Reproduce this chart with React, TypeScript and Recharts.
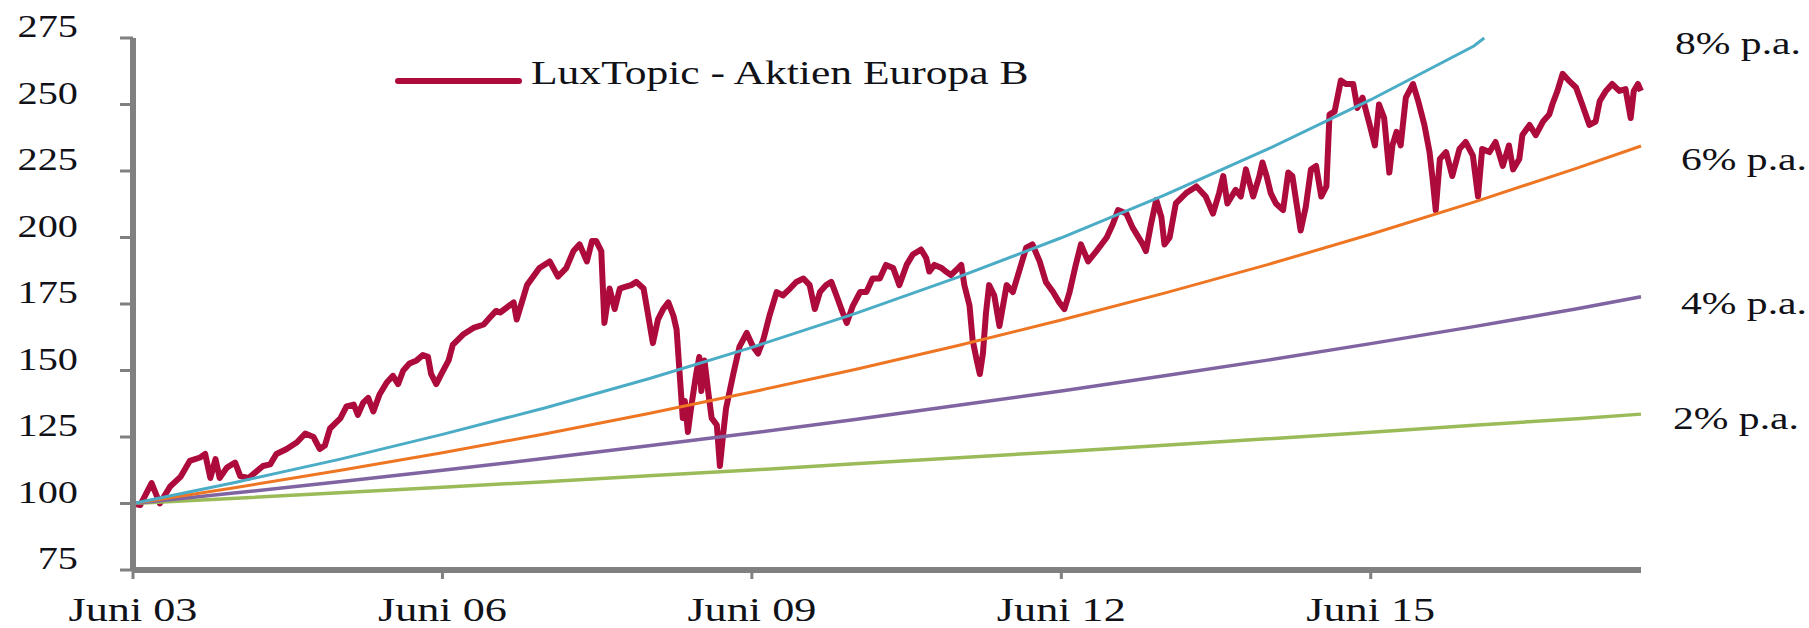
import React from 'react';
import { LineChart, Line, XAxis, YAxis } from 'recharts';

// LuxTopic - Aktien Europa B, indexiert (Juni 03 = 100), x = Jahre seit Juni 2003
const luxYears = [
    0, 0.07, 0.18, 0.26, 0.36, 0.46, 0.55, 0.65, 0.7, 0.75, 0.8, 0.84, 0.91, 0.99, 1.04, 1.12, 1.18, 1.26, 1.33, 1.39,
    1.49, 1.59, 1.67, 1.75, 1.81, 1.86, 1.91, 2.01, 2.07, 2.14, 2.18, 2.23, 2.28, 2.33, 2.39, 2.46, 2.52, 2.57, 2.62, 2.68,
    2.75, 2.81, 2.86, 2.89, 2.94, 2.99, 3.06, 3.1, 3.2, 3.3, 3.4, 3.46, 3.52, 3.56, 3.69, 3.72, 3.82, 3.94, 4.04, 4.12,
    4.2, 4.27, 4.33, 4.4, 4.45, 4.49, 4.54, 4.56, 4.57, 4.62, 4.67, 4.72, 4.77, 4.83, 4.88, 4.95, 4.99, 5.04, 5.09, 5.14,
    5.19, 5.24, 5.27, 5.3, 5.33, 5.35, 5.38, 5.41, 5.46, 5.49, 5.51, 5.54, 5.58, 5.61, 5.66, 5.69, 5.72, 5.75, 5.82, 5.88,
    5.95, 6.01, 6.06, 6.11, 6.17, 6.24, 6.3, 6.37, 6.43, 6.5, 6.56, 6.61, 6.66, 6.72, 6.77, 6.82, 6.88, 6.92, 6.98, 7.05,
    7.11, 7.17, 7.24, 7.3, 7.37, 7.43, 7.5, 7.56, 7.64, 7.69, 7.72, 7.77, 7.84, 7.88, 7.93, 8.0, 8.03, 8.06, 8.11, 8.14,
    8.18, 8.21, 8.24, 8.27, 8.3, 8.35, 8.4, 8.47, 8.53, 8.6, 8.66, 8.72, 8.79, 8.85, 8.92, 8.98, 9.03, 9.08, 9.14, 9.19,
    9.26, 9.34, 9.44, 9.5, 9.55, 9.63, 9.69, 9.79, 9.82, 9.87, 9.92, 9.97, 10.0, 10.05, 10.11, 10.21, 10.31, 10.4, 10.47, 10.53,
    10.57, 10.61, 10.69, 10.74, 10.79, 10.86, 10.92, 10.95, 10.99, 11.03, 11.08, 11.15, 11.2, 11.24, 11.29, 11.32, 11.37, 11.42, 11.47, 11.52,
    11.57, 11.6, 11.65, 11.71, 11.76, 11.83, 11.87, 11.92, 11.99, 12.04, 12.08, 12.13, 12.18, 12.21, 12.25, 12.29, 12.34, 12.41, 12.46, 12.52,
    12.57, 12.6, 12.63, 12.67, 12.73, 12.79, 12.86, 12.92, 12.99, 13.04, 13.08, 13.15, 13.21, 13.28, 13.34, 13.38, 13.44, 13.47, 13.54, 13.6,
    13.67, 13.73, 13.76, 13.81, 13.86, 13.92, 13.99, 14.05, 14.12, 14.18, 14.22, 14.28, 14.34, 14.41, 14.47, 14.52, 14.55, 14.59, 14.62,
];
const luxValues = [
    100, 99.4, 107.7, 100, 106.4, 110, 116, 117.3, 118.6, 109.6, 116.7, 109.6, 113.5, 115.4, 110.3, 109.6, 111.5, 114.1, 114.7, 118.6,
    120.5, 123, 126.3, 125, 120.5, 121.8, 128.2, 132, 136.5, 137.2, 133.3, 137.8, 139.7, 134.6, 141, 145.5, 148, 144.9, 150, 152.6,
    153.8, 155.8, 155.1, 148.7, 144.9, 148.7, 153.8, 159.6, 163.5, 166, 167.3, 169.9, 172.4, 171.8, 175.6, 169.2, 182.1, 188.5, 191, 185.3,
    188.5, 194.9, 197.4, 191, 198.7, 198.7, 194.9, 176.9, 167.9, 180.8, 173.1, 180.8, 181.4, 182.1, 183.3, 180.8, 171.8, 160.3, 169.2, 173.1,
    175.6, 170.5, 165.4, 148.7, 132.1, 138.5, 126.9, 135.9, 148.7, 155.1, 142.3, 153.8, 141, 132.1, 129.5, 114.1, 125.6, 135.9, 148.7, 159,
    164.1, 159, 156.4, 161.5, 170.5, 179.5, 178.2, 180.8, 183.3, 184.6, 182.1, 173.1, 179.5, 182.1, 183.3, 178.2, 171.8, 167.9, 174.4, 179.5,
    179.5, 184.6, 184.6, 189.7, 188.5, 182.1, 189.7, 193.6, 195.5, 192.3, 187.2, 189.7, 188.5, 187.2, 185.9, 188.5, 189.7, 182.1, 174.4, 161.5,
    153.8, 148.7, 156.4, 171.8, 182.1, 178.2, 166.7, 182.1, 179.5, 188.5, 196.2, 197.4, 191, 183.3, 179.5, 175.6, 173.1, 179.5, 189.7, 197.4,
    191, 194.9, 200, 205.1, 210.3, 209, 203.8, 197.4, 194.9, 205.1, 214.1, 207.7, 197.4, 200, 212.8, 216.7, 219.2, 215.4, 209, 216.7,
    223.1, 212.8, 217.9, 215.4, 225.6, 215.4, 223.1, 228.2, 223.1, 216.7, 212.8, 210.3, 224.4, 223.1, 210.3, 202.6, 211.5, 225.6, 226.9, 215.4,
    219.2, 246.2, 247.4, 259, 257.7, 257.7, 248.7, 252.6, 242.3, 234.6, 250, 244.9, 224.4, 234.6, 239.7, 234.6, 252.6, 257.7, 251.3, 242.3,
    232.1, 221.8, 210.3, 229.5, 232.1, 223.1, 233.3, 235.9, 230.8, 215.4, 233.3, 232.1, 235.9, 226.9, 234.6, 225.6, 229.5, 238.5, 242.3, 238.5,
    243.6, 246.2, 250, 255.1, 261.5, 259, 256.4, 250, 242.3, 243.6, 251.3, 255.1, 257.7, 255.1, 255.8, 244.9, 255.1, 257.7, 255.1,
];

// Vergleichslinien, Jahreswerte
const rateYears = [0, 1, 2, 3, 4, 5, 6, 7, 8, 9, 10, 11, 12, 13, 14, 14.62];
const rate8Years = [0, 1, 2, 3, 4, 5, 6, 7, 8, 9, 10, 11, 12, 13, 13.1];
const rate8 = [100, 108, 116.6, 126, 136, 146.9, 158.7, 171.4, 185.1, 199.9, 215.9, 233.2, 251.8, 272, 275];
const rate6 = [100, 106, 112.4, 119.1, 126.2, 133.8, 141.9, 150.4, 159.4, 169, 179.1, 189.8, 201.2, 213.3, 226.1, 234.4];
const rate4Years = [0, 0, 1, 2, 3, 4, 5, 6, 7, 8, 9, 10, 11, 12, 13, 14, 14.62];
const rate4 = [75, 100, 104, 108.2, 112.5, 117, 121.7, 126.5, 131.6, 136.9, 142.3, 148, 153.9, 160.1, 166.5, 173.2, 177.7];
const rate2 = [100, 102, 104, 106.1, 108.2, 110.4, 112.6, 114.9, 117.2, 119.5, 121.9, 124.3, 126.8, 129.4, 131.9, 133.6];

const xTicks = [0, 3, 6, 9, 12];
const xTickLabels = ['Juni 03', 'Juni 06', 'Juni 09', 'Juni 12', 'Juni 15'];
const yTicks = [75, 100, 125, 150, 175, 200, 225, 250, 275];
const rateLabels = ['8% p.a.', '6% p.a.', '4% p.a.', '2% p.a.'];
const legendLabel = 'LuxTopic - Aktien Europa B';

const toRows = (xs: number[], vs: number[]) => xs.map((t, i) => ({ t, v: vs[i] }));

const FONT = '"Liberation Serif", "Times New Roman", serif';
const TEXT = '#111118';
const AXIS = '#808080';

const YTick = ({ x, y, payload }: any) => (
    <text transform={`translate(${x - 40},${y - 1}) scale(1.3,1)`} textAnchor="end" fontFamily={FONT} fontSize={31} fill={TEXT}>
        {payload.value}
    </text>
);

const XTick = ({ x, y, payload }: any) => (
    <text transform={`translate(${x},${y + 40}) scale(1.3,1)`} textAnchor="middle" fontFamily={FONT} fontSize={34} fill={TEXT}>
        {xTickLabels[xTicks.indexOf(payload.value)]}
    </text>
);

// Beschriftungen rechts: [x, Grundlinie]
const rateLabelPos = [[1675, 54], [1681, 170], [1681, 314], [1673, 429]];

export default function App() {
    return (
        <div style={{ position: 'relative', width: 1809, height: 628, background: '#fff' }}>
            <style>{'body { margin: 0; }'}</style>
            <LineChart width={1809} height={628} margin={{ top: 38, right: 168, bottom: 0, left: 0 }}>
                <XAxis
                    dataKey="t"
                    type="number"
                    domain={[0, 14.62]}
                    ticks={xTicks}
                    height={58}
                    tickSize={9}
                    axisLine={{ stroke: AXIS, strokeWidth: 6 }}
                    tickLine={{ stroke: AXIS, strokeWidth: 3 }}
                    tick={<XTick />}
                />
                <YAxis
                    type="number"
                    domain={[75, 275]}
                    ticks={yTicks}
                    width={133}
                    tickSize={13}
                    axisLine={{ stroke: AXIS, strokeWidth: 6 }}
                    tickLine={{ stroke: AXIS, strokeWidth: 3 }}
                    tick={<YTick />}
                />
                <Line data={toRows(luxYears, luxValues)} dataKey="v" stroke="#AD0B3C" strokeWidth={6} dot={false} isAnimationActive={false} strokeLinejoin="round" />
                <Line data={toRows(rateYears, rate2)} dataKey="v" stroke="#9BBB59" strokeWidth={3.5} dot={false} isAnimationActive={false} />
                <Line data={toRows(rate4Years, rate4)} dataKey="v" stroke="#8064A2" strokeWidth={3.5} dot={false} isAnimationActive={false} />
                <Line data={toRows(rateYears, rate6)} dataKey="v" stroke="#EE7623" strokeWidth={3} dot={false} isAnimationActive={false} />
                <Line data={toRows(rate8Years, rate8)} dataKey="v" stroke="#4BACC6" strokeWidth={3} dot={false} isAnimationActive={false} />
            </LineChart>
            <svg width={1809} height={628} style={{ position: 'absolute', left: 0, top: 0, pointerEvents: 'none' }}>
                <line x1={398} y1={81} x2={519} y2={81} stroke="#AD0B3C" strokeWidth={6} strokeLinecap="round" />
                <text transform="translate(531,84) scale(1.3,1)" fontFamily={FONT} fontSize={33.5} fill={TEXT}>
                    {legendLabel}
                </text>
                {rateLabels.map((label, i) => (
                    <text key={label} transform={`translate(${rateLabelPos[i][0]},${rateLabelPos[i][1]}) scale(1.3,1)`} fontFamily={FONT} fontSize={32} fill={TEXT}>
                        {label}
                    </text>
                ))}
            </svg>
        </div>
    );
}
